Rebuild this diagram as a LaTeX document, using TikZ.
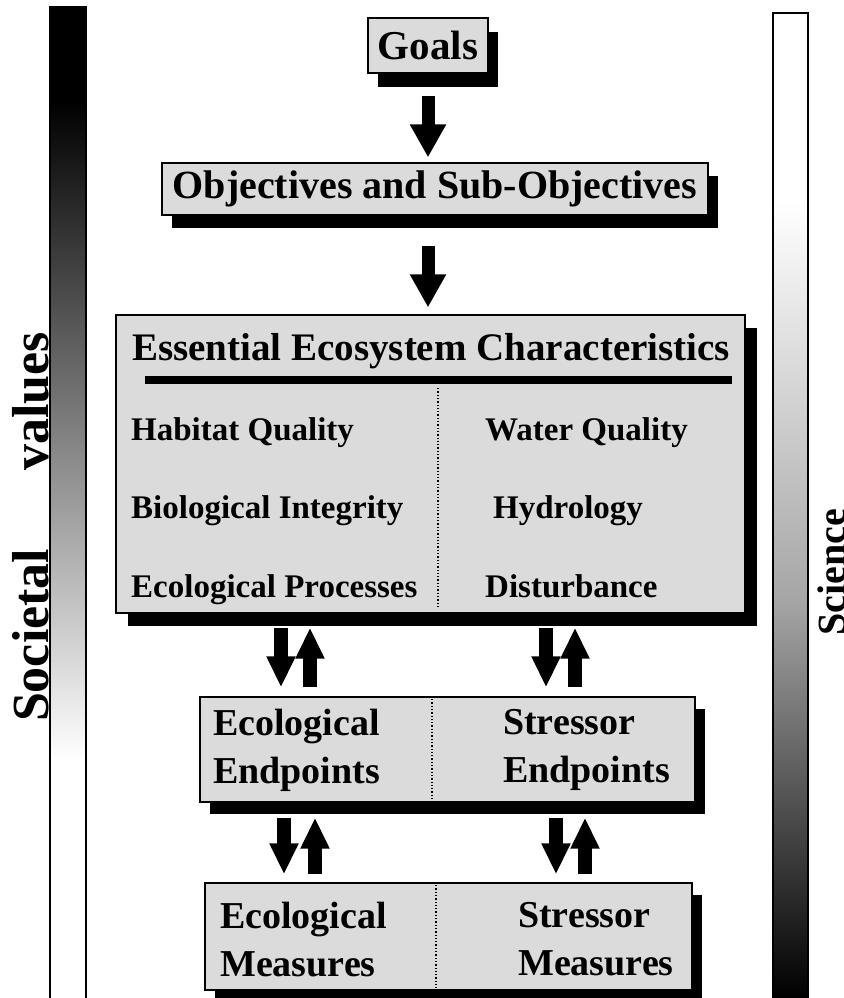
\documentclass[tikz,border=0pt]{standalone}
\usepackage{fontspec}
\setmainfont{Liberation Serif}
\usetikzlibrary{shadows,arrows.meta}
\definecolor{boxgray}{gray}{0.86}
\tikzset{
  box/.style={draw=black, line width=1.2pt, fill=boxgray, inner sep=0pt},
  sh/.style 2 args={drop shadow={shadow xshift=#1, shadow yshift=#2, fill=black, opacity=1}},
  arr/.style={line width=13pt, -{Triangle[length=33pt,width=34pt]}},
  arrp/.style={line width=14pt, -{Triangle[length=31pt,width=27pt]}},
  divider/.style={line width=1.3pt, dotted},
  lbl/.style={anchor=base west, inner sep=0pt, font=\fontsize{33}{38}\selectfont\bfseries},
  big/.style={inner sep=0pt, font=\fontsize{38}{48}\selectfont\bfseries, align=left, anchor=north west},
  barline/.style={line width=1.5pt}
}
\begin{document}
\begin{tikzpicture}[x=1pt,y=-1pt]
\useasboundingbox (0,0) rectangle (843,998);
% side bars
\fill[black] (50,7) rectangle (86,100);
\shade[top color=black, bottom color=white] (50,100) rectangle (86,760);
\draw[barline] (50,998) -- (50,7) -- (86,7) -- (86,998);
\shade[top color=white, bottom color=black, middle color=black!35] (773,200) rectangle (808,998);
\draw[barline] (773,998) -- (773,13) -- (808,13) -- (808,998);
\node[rotate=90, inner sep=0pt, font=\fontsize{52}{60}\selectfont\bfseries] (sv) at (31,527) {Societal\hspace{1.5em}values};
\node[rotate=90, inner sep=0pt, font=\fontsize{40}{48}\selectfont\bfseries] (sci) at (832,572) {Science};
% boxes
\node[box, sh={10pt}{-14pt}, minimum width=120pt, minimum height=55pt, font=\fontsize{41}{48}\selectfont\bfseries] (goals) at (428,45.5) {Goals};
\node[box, sh={10pt}{-13pt}, minimum width=546pt, minimum height=52pt, font=\fontsize{40}{48}\selectfont\bfseries] (obj) at (435,189) {Objectives and Sub-Objectives};
\node[box, sh={12pt}{-13pt}, minimum width=629pt, minimum height=298pt] (eec) at (430.5,464) {};
\node[box, sh={10pt}{-12pt}, minimum width=495pt, minimum height=105pt] (endp) at (447.5,749.5) {};
\node[box, sh={10pt}{-12pt}, minimum width=487pt, minimum height=107pt] (meas) at (448.5,936.5) {};
% EEC content
\node[anchor=base, inner sep=0pt, font=\fontsize{39}{46}\selectfont\bfseries] (eect) at (431,360) {Essential Ecosystem Characteristics};
\draw[line width=8pt] (145,380) -- (732,380);
\draw[divider] (438,388) -- (438,608);
\node[lbl] (hq) at (131,440) {Habitat Quality};
\node[lbl] (bi) at (131,518) {Biological Integrity};
\node[lbl] (ep) at (131,597) {Ecological Processes};
\node[lbl] (wq) at (485,440) {Water Quality};
\node[lbl] (hy) at (493,518) {Hydrology};
\node[lbl] (di) at (485,597) {Disturbance};
% endpoints
\draw[divider] (432,699) -- (432,800);
\node[big] (ee) at (213,709) {Ecological\\Endpoints};
\node[big] (se) at (503,709) {Stressor\\Endpoints};
% measures
\draw[divider] (436,885) -- (436,988);
\node[big] (em) at (220,902) {Ecological\\Measures};
\node[big] (sm) at (518,902) {Stressor\\Measures};
% arrows
\draw[arr, shorten <=22pt, shorten >=5pt] (goals.south) -- (goals.south |- obj.north);
\draw[arr, shorten <=30pt, shorten >=7pt] (goals.south |- obj.south) -- (goals.south |- eec.north);
\draw[arrp, shorten <=14pt, shorten >=9pt] ([xshift=-149.5pt]eec.south) -- ([xshift=-149.5pt]eec.south |- endp.north);
\draw[arrp, shorten <=9pt, shorten >=14pt] ([xshift=-120.5pt]eec.south |- endp.north) -- ([xshift=-120.5pt]eec.south);
\draw[arrp, shorten <=14pt, shorten >=9pt] ([xshift=115.5pt]eec.south) -- ([xshift=115.5pt]eec.south |- endp.north);
\draw[arrp, shorten <=9pt, shorten >=14pt] ([xshift=144.5pt]eec.south |- endp.north) -- ([xshift=144.5pt]eec.south);
\draw[arrp, shorten <=15pt, shorten >=8pt] ([xshift=-163.5pt]endp.south) -- ([xshift=-163.5pt]endp.south |- meas.north);
\draw[arrp, shorten <=8pt, shorten >=15pt] ([xshift=-132.5pt]endp.south |- meas.north) -- ([xshift=-132.5pt]endp.south);
\draw[arrp, shorten <=15pt, shorten >=8pt] ([xshift=108.5pt]endp.south) -- ([xshift=108.5pt]endp.south |- meas.north);
\draw[arrp, shorten <=8pt, shorten >=15pt] ([xshift=137.5pt]endp.south |- meas.north) -- ([xshift=137.5pt]endp.south);
\end{tikzpicture}
\end{document}
